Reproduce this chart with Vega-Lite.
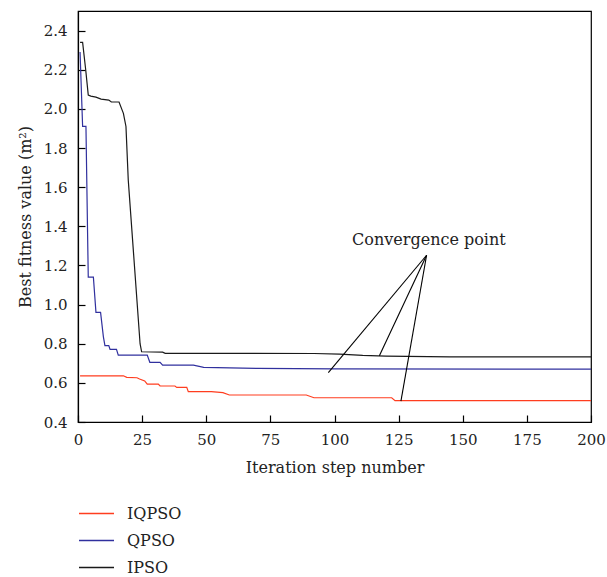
{
  "$schema": "https://vega.github.io/schema/vega-lite/v6.json",
  "width": 513,
  "height": 411,
  "autosize": {"type": "none"},
  "padding": {"left": 78, "top": 11, "right": 16, "bottom": 155},
  "background": "white",
  "config": {
    "font": "DejaVu Serif",
    "view": {"stroke": "#000000", "strokeWidth": 1.2},
    "axis": {
      "labelFont": "DejaVu Serif",
      "titleFont": "DejaVu Serif",
      "labelFontSize": 15,
      "titleFontSize": 16,
      "titleFontWeight": "normal",
      "labelColor": "#222222",
      "titleColor": "#222222",
      "domainColor": "#000000",
      "tickColor": "#000000",
      "domainWidth": 1.2,
      "tickWidth": 1.2,
      "grid": false
    },
    "legend": {
      "labelFont": "DejaVu Serif",
      "labelFontSize": 16,
      "labelColor": "#222222"
    }
  },
  "datasets": {
    "series": [
      {"step": 0.8, "value": 0.636, "algo": "IQPSO"},
      {"step": 17.7, "value": 0.636, "algo": "IQPSO"},
      {"step": 19, "value": 0.628, "algo": "IQPSO"},
      {"step": 23, "value": 0.626, "algo": "IQPSO"},
      {"step": 24, "value": 0.62, "algo": "IQPSO"},
      {"step": 26, "value": 0.61, "algo": "IQPSO"},
      {"step": 27, "value": 0.594, "algo": "IQPSO"},
      {"step": 31.3, "value": 0.594, "algo": "IQPSO"},
      {"step": 32, "value": 0.584, "algo": "IQPSO"},
      {"step": 37.8, "value": 0.584, "algo": "IQPSO"},
      {"step": 38.5, "value": 0.577, "algo": "IQPSO"},
      {"step": 42.4, "value": 0.577, "algo": "IQPSO"},
      {"step": 43, "value": 0.555, "algo": "IQPSO"},
      {"step": 52, "value": 0.555, "algo": "IQPSO"},
      {"step": 56.5, "value": 0.55, "algo": "IQPSO"},
      {"step": 59, "value": 0.538, "algo": "IQPSO"},
      {"step": 89, "value": 0.538, "algo": "IQPSO"},
      {"step": 92, "value": 0.524, "algo": "IQPSO"},
      {"step": 122.3, "value": 0.524, "algo": "IQPSO"},
      {"step": 123.6, "value": 0.509, "algo": "IQPSO"},
      {"step": 200, "value": 0.509, "algo": "IQPSO"},

      {"step": 0.8, "value": 2.29, "algo": "QPSO"},
      {"step": 1.8, "value": 1.91, "algo": "QPSO"},
      {"step": 3.1, "value": 1.91, "algo": "QPSO"},
      {"step": 4, "value": 1.14, "algo": "QPSO"},
      {"step": 6, "value": 1.14, "algo": "QPSO"},
      {"step": 7, "value": 0.96, "algo": "QPSO"},
      {"step": 8.8, "value": 0.96, "algo": "QPSO"},
      {"step": 9.9, "value": 0.835, "algo": "QPSO"},
      {"step": 10.5, "value": 0.79, "algo": "QPSO"},
      {"step": 12, "value": 0.79, "algo": "QPSO"},
      {"step": 12.5, "value": 0.771, "algo": "QPSO"},
      {"step": 15, "value": 0.771, "algo": "QPSO"},
      {"step": 15.7, "value": 0.742, "algo": "QPSO"},
      {"step": 27, "value": 0.742, "algo": "QPSO"},
      {"step": 28, "value": 0.705, "algo": "QPSO"},
      {"step": 32, "value": 0.705, "algo": "QPSO"},
      {"step": 33, "value": 0.691, "algo": "QPSO"},
      {"step": 45, "value": 0.691, "algo": "QPSO"},
      {"step": 49, "value": 0.679, "algo": "QPSO"},
      {"step": 70, "value": 0.674, "algo": "QPSO"},
      {"step": 100, "value": 0.671, "algo": "QPSO"},
      {"step": 200, "value": 0.67, "algo": "QPSO"},

      {"step": 0.8, "value": 2.34, "algo": "IPSO"},
      {"step": 1.8, "value": 2.34, "algo": "IPSO"},
      {"step": 3, "value": 2.2, "algo": "IPSO"},
      {"step": 4, "value": 2.07, "algo": "IPSO"},
      {"step": 5, "value": 2.065, "algo": "IPSO"},
      {"step": 7, "value": 2.06, "algo": "IPSO"},
      {"step": 9, "value": 2.05, "algo": "IPSO"},
      {"step": 12, "value": 2.045, "algo": "IPSO"},
      {"step": 13, "value": 2.035, "algo": "IPSO"},
      {"step": 16, "value": 2.035, "algo": "IPSO"},
      {"step": 17.7, "value": 1.977, "algo": "IPSO"},
      {"step": 18.7, "value": 1.91, "algo": "IPSO"},
      {"step": 19.6, "value": 1.635, "algo": "IPSO"},
      {"step": 24.2, "value": 0.8, "algo": "IPSO"},
      {"step": 24.8, "value": 0.759, "algo": "IPSO"},
      {"step": 33, "value": 0.757, "algo": "IPSO"},
      {"step": 34, "value": 0.751, "algo": "IPSO"},
      {"step": 92, "value": 0.75, "algo": "IPSO"},
      {"step": 102, "value": 0.747, "algo": "IPSO"},
      {"step": 111, "value": 0.74, "algo": "IPSO"},
      {"step": 120, "value": 0.737, "algo": "IPSO"},
      {"step": 145, "value": 0.733, "algo": "IPSO"},
      {"step": 200, "value": 0.733, "algo": "IPSO"}
    ],
    "pointers": [
      {"fromStep": 135.9, "fromValue": 1.252, "toStep": 97.6, "toValue": 0.652},
      {"fromStep": 135.9, "fromValue": 1.252, "toStep": 117.5, "toValue": 0.738},
      {"fromStep": 135.9, "fromValue": 1.252, "toStep": 125.9, "toValue": 0.507}
    ],
    "labels": [
      {"step": 136.8, "value": 1.303, "text": "Convergence point"}
    ]
  },
  "layer": [
    {
      "data": {"name": "series"},
      "mark": {"type": "line", "strokeWidth": 1.2, "clip": true},
      "encoding": {
        "x": {
          "field": "step",
          "type": "quantitative",
          "scale": {"domain": [0, 200], "nice": false, "zero": false},
          "axis": {
            "title": "Iteration step number",
            "values": [0, 25, 50, 75, 100, 125, 150, 175, 200],
            "tickSize": -7,
            "labelPadding": 17,
            "titlePadding": 12,
            "labelFlush": false
          }
        },
        "y": {
          "field": "value",
          "type": "quantitative",
          "scale": {"domain": [0.4, 2.5], "nice": false, "zero": false},
          "axis": {
            "title": "Best fitness value (m²)",
            "values": [0.4, 0.6, 0.8, 1.0, 1.2, 1.4, 1.6, 1.8, 2.0, 2.2, 2.4],
            "format": ".1f",
            "tickSize": -7,
            "labelPadding": 18,
            "titlePadding": 10
          }
        },
        "color": {
          "field": "algo",
          "type": "nominal",
          "scale": {
            "domain": ["IQPSO", "QPSO", "IPSO"],
            "range": ["#ff3d1f", "#30309e", "#1a1a1a"]
          },
          "legend": {
            "title": null,
            "orient": "none",
            "legendX": 0,
            "legendY": 484,
            "padding": 0,
            "symbolType": "stroke",
            "symbolSize": 1225,
            "symbolStrokeWidth": 1.5,
            "labelOffset": 12,
            "rowPadding": -10
          }
        },
        "detail": {"field": "algo"}
      }
    },
    {
      "data": {"name": "pointers"},
      "mark": {"type": "rule", "color": "#000000", "strokeWidth": 1.1},
      "encoding": {
        "x": {"field": "fromStep", "type": "quantitative"},
        "y": {"field": "fromValue", "type": "quantitative"},
        "x2": {"field": "toStep"},
        "y2": {"field": "toValue"}
      }
    },
    {
      "data": {"name": "labels"},
      "mark": {"type": "text", "font": "DejaVu Serif", "fontSize": 16, "color": "#222222", "align": "center", "baseline": "alphabetic"},
      "encoding": {
        "x": {"field": "step", "type": "quantitative"},
        "y": {"field": "value", "type": "quantitative"},
        "text": {"field": "text"}
      }
    }
  ]
}
